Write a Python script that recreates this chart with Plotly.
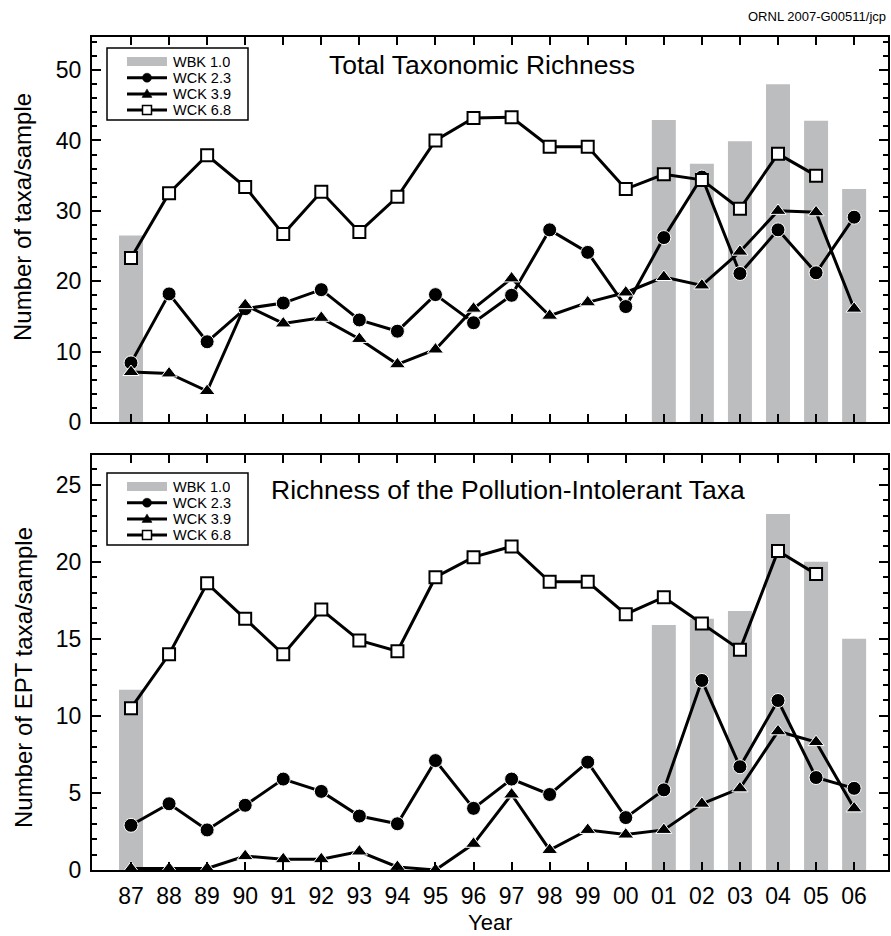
import plotly.graph_objects as go

years = ["87", "88", "89", "90", "91", "92", "93", "94", "95", "96",
         "97", "98", "99", "00", "01", "02", "03", "04", "05", "06"]

# Top panel: Total Taxonomic Richness
wbk_total_years = ["87", "01", "02", "03", "04", "05", "06"]
wbk_total = [26.5, 42.9, 36.7, 39.9, 48.0, 42.8, 33.1]
wck23_total = [8.4, 18.2, 11.4, 16.1, 16.9, 18.8, 14.5, 12.9, 18.1, 14.1,
               18.0, 27.3, 24.1, 16.4, 26.2, 34.8, 21.1, 27.3, 21.2, 29.1]
wck39_total = [7.1, 6.9, 4.4, 16.6, 14.0, 14.8, 11.8, 8.2, 10.3, 16.1,
               20.4, 15.1, 17.0, 18.4, 20.6, 19.4, 24.2, 30.0, 29.8, 16.1]
wck68_total = [23.3, 32.5, 37.9, 33.4, 26.7, 32.7, 27.0, 32.0, 40.0, 43.2,
               43.3, 39.1, 39.1, 33.1, 35.2, 34.4, 30.3, 38.1, 35.0, None]

# Bottom panel: EPT richness
wbk_ept_years = ["87", "01", "02", "03", "04", "05", "06"]
wbk_ept = [11.7, 15.9, 16.3, 16.8, 23.1, 20.0, 15.0]
wck23_ept = [2.9, 4.3, 2.6, 4.2, 5.9, 5.1, 3.5, 3.0, 7.1, 4.0,
             5.9, 4.9, 7.0, 3.4, 5.2, 12.3, 6.7, 11.0, 6.0, 5.3]
wck39_ept = [0.1, 0.1, 0.1, 0.9, 0.7, 0.7, 1.2, 0.2, 0.0, 1.7,
             4.9, 1.3, 2.6, 2.3, 2.6, 4.3, 5.3, 9.0, 8.3, 4.0]
wck68_ept = [10.5, 14.0, 18.6, 16.3, 14.0, 16.9, 14.9, 14.2, 19.0, 20.3,
             21.0, 18.7, 18.7, 16.6, 17.7, 16.0, 14.3, 20.7, 19.2, None]

series_names = ["WBK 1.0", "WCK 2.3", "WCK 3.9", "WCK 6.8"]

FONT = "Liberation Sans, Arial, Helvetica, sans-serif"
GRAY = "#bcbdbf"

W, H = 891, 936
ML, MR, MT, MB = 92, 3, 37, 66
PW, PH = W - ML - MR, H - MT - MB


def px(x):
    return (x - ML) / PW


def py(y):
    return (H - MB - y) / PH


fig = go.Figure()

LINE = dict(color="black", width=3)
MK_CIRCLE = dict(symbol="circle", size=14, color="black", line=dict(color="white", width=1))
MK_TRI = dict(symbol="triangle-up", size=14, color="black", line=dict(color="white", width=1))
MK_SQ = dict(symbol="square", size=12, color="white", line=dict(color="black", width=2))


def add_panel(xa, ya, bar_x, bar_y, c23, c39, c68):
    fig.add_trace(go.Bar(x=bar_x, y=bar_y, name=series_names[0], marker_color=GRAY,
                         marker_line_width=0, width=0.63, xaxis=xa, yaxis=ya,
                         showlegend=False))
    for vals, nm, mk in [(c23, series_names[1], MK_CIRCLE),
                         (c39, series_names[2], MK_TRI),
                         (c68, series_names[3], MK_SQ)]:
        fig.add_trace(go.Scatter(x=years, y=vals, name=nm, mode="lines+markers",
                                 line=LINE, marker=mk, xaxis=xa, yaxis=ya,
                                 showlegend=False))


add_panel("x", "y", wbk_total_years, wbk_total, wck23_total, wck39_total, wck68_total)
add_panel("x2", "y2", wbk_ept_years, wbk_ept, wck23_ept, wck39_ept, wck68_ept)

TICKFONT = dict(family=FONT, size=23, color="black")
xcommon = dict(type="category", categoryorder="array", categoryarray=years,
               range=[-1.025, 19.89], showline=True, linecolor="black", linewidth=2,
               mirror="ticks", ticks="inside", ticklen=8, tickwidth=1.5,
               tickcolor="black", showgrid=False, zeroline=False, tickfont=TICKFONT,
               ticklabelstandoff=4)
ycommon = dict(showline=True, linecolor="black", linewidth=2, mirror="ticks",
               ticks="inside", ticklen=9, tickwidth=1.5, tickcolor="black",
               showgrid=False, zeroline=False, tickfont=TICKFONT,
               ticklabelstandoff=4)

shapes = []
annotations = []


def add_legend(top):
    # box
    shapes.append(dict(type="rect", xref="paper", yref="paper",
                       x0=px(107), x1=px(248), y0=py(top + 72), y1=py(top),
                       line=dict(color="black", width=1.5), fillcolor="white",
                       layer="above"))
    rows = [top + 13.5, top + 29.7, top + 45.9, top + 62.1]
    kx0, kx1, kc = 127, 167, 147
    # WBK bar swatch
    shapes.append(dict(type="rect", xref="paper", yref="paper", x0=px(kx0), x1=px(kx1),
                       y0=py(rows[0] + 4.5), y1=py(rows[0] - 4.5),
                       line=dict(width=0), fillcolor=GRAY, layer="above"))
    for r in rows[1:]:
        shapes.append(dict(type="line", xref="paper", yref="paper", x0=px(kx0), x1=px(kx1),
                           y0=py(r), y1=py(r), line=dict(color="black", width=3),
                           layer="above"))
    s = 4.5
    shapes.append(dict(type="circle", xref="paper", yref="paper",
                       x0=px(kc - s), x1=px(kc + s), y0=py(rows[1] + s), y1=py(rows[1] - s),
                       fillcolor="black", line=dict(color="black", width=0.5), layer="above"))
    r = rows[2]
    shapes.append(dict(type="path", xref="paper", yref="paper",
                       path="M %f %f L %f %f L %f %f Z" % (px(kc - 5), py(r + 3.5),
                                                           px(kc + 5), py(r + 3.5),
                                                           px(kc), py(r - 5)),
                       fillcolor="black", line=dict(color="black", width=0.5), layer="above"))
    shapes.append(dict(type="rect", xref="paper", yref="paper",
                       x0=px(kc - s), x1=px(kc + s), y0=py(rows[3] + s), y1=py(rows[3] - s),
                       fillcolor="white", line=dict(color="black", width=1.5), layer="above"))
    for nm, r in zip(series_names, rows):
        annotations.append(dict(text=nm, x=px(172), y=py(r), xref="paper", yref="paper",
                                xanchor="left", yanchor="middle", showarrow=False,
                                height=14, borderpad=0, valign="middle",
                                font=dict(family=FONT, size=14.5, color="black")))


add_legend(48)
add_legend(473)

annotations += [
    dict(text="Total Taxonomic Richness", x=px(482), y=py(65), xref="paper",
         yref="paper", xanchor="center", yanchor="middle", showarrow=False,
         font=dict(family=FONT, size=26.5, color="black")),
    dict(text="Richness of the Pollution-Intolerant Taxa", x=px(508), y=py(490),
         xref="paper", yref="paper", xanchor="center", yanchor="middle",
         showarrow=False, font=dict(family=FONT, size=26.5, color="black")),
    dict(text="Number of taxa/sample", x=px(23), y=py(217), xref="paper",
         yref="paper", xanchor="center", yanchor="middle", textangle=-90,
         showarrow=False, font=dict(family=FONT, size=24, color="black")),
    dict(text="Number of EPT taxa/sample", x=px(23), y=py(678), xref="paper",
         yref="paper", xanchor="center", yanchor="middle", textangle=-90,
         showarrow=False, font=dict(family=FONT, size=24, color="black")),
    dict(text="Year", x=0.5, y=py(922), xref="paper", yref="paper",
         xanchor="center", yanchor="middle", showarrow=False,
         height=22, borderpad=0,
         font=dict(family=FONT, size=22, color="black")),
    dict(text="ORNL 2007-G00511/jcp", x=px(888), y=py(17), xref="paper",
         yref="paper", xanchor="right", yanchor="middle", showarrow=False,
         font=dict(family=FONT, size=13, color="black")),
]

fig.update_layout(
    width=W, height=H,
    margin=dict(l=ML, r=MR, t=MT, b=MB, autoexpand=False),
    paper_bgcolor="white", plot_bgcolor="white",
    barmode="overlay", showlegend=False,
    xaxis=dict(**xcommon, domain=[0, 1], anchor="y", showticklabels=False),
    yaxis=dict(**ycommon, domain=[py(422), 1], anchor="x", range=[0, 54.7],
               tickvals=[0, 10, 20, 30, 40, 50],
               minor=dict(dtick=2, ticks="inside", ticklen=5, tickcolor="black",
                          tickwidth=1.5, showgrid=False)),
    xaxis2=dict(**xcommon, domain=[0, 1], anchor="y2"),
    yaxis2=dict(**ycommon, domain=[0, py(455)], anchor="x2", range=[0, 26.93],
                tickvals=[0, 5, 10, 15, 20, 25],
                minor=dict(dtick=1, ticks="inside", ticklen=5, tickcolor="black",
                           tickwidth=1.5, showgrid=False)),
    shapes=shapes,
    annotations=annotations,
)

fig.write_html("out.html",
               config={"displayModeBar": False},
               post_script="document.body.style.margin='0';"
                           "document.body.style.overflow='hidden';")
